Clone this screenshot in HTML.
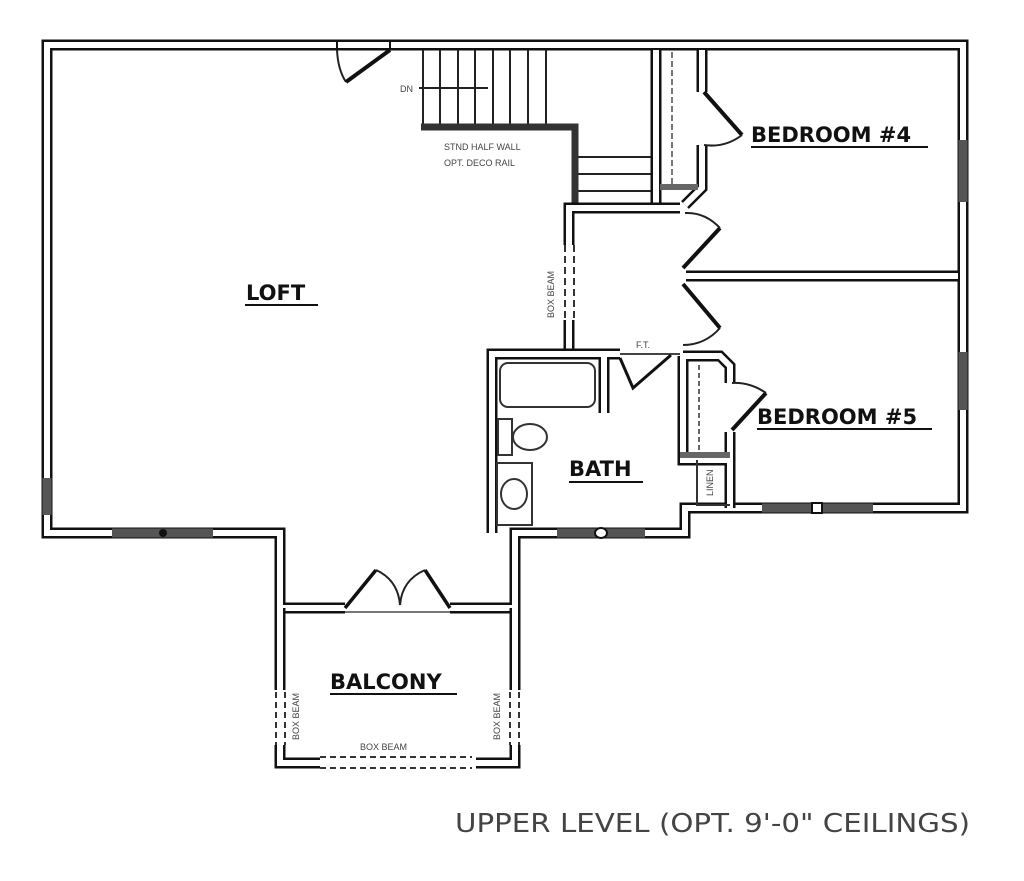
<!DOCTYPE html>
<html><head><style>
html,body{margin:0;padding:0;background:#fff;}
svg{display:block;}
.w{fill:none;stroke:#111;stroke-width:11;stroke-linejoin:miter;}
.wi{fill:none;stroke:#fff;stroke-width:6;stroke-linejoin:miter;}
.ln{fill:none;stroke:#222;stroke-width:2;}
.win{stroke:#555;stroke-width:9;}
.lab{font-family:"DejaVu Sans","Liberation Sans",sans-serif;font-weight:bold;font-size:21px;fill:#111;}
.sm{font-family:"Liberation Sans",sans-serif;font-size:9px;fill:#444;}
</style></head><body>
<svg width="1024" height="881" viewBox="0 0 1024 881" xmlns="http://www.w3.org/2000/svg">
<rect width="1024" height="881" fill="#fff"/>
<g>
<path class="w" d="M345 608 H280 V533 H47 V45 H963 V508 H685 V533 H515 V608 H450"/>
<path class="wi" d="M345 608 H280 V533 H47 V45 H963 V508 H685 V533 H515 V608 H450"/>
</g>
<line class="win" x1="47" y1="478" x2="47" y2="515"/>
<line class="win" x1="112" y1="533" x2="213" y2="533"/>
<circle cx="163" cy="533" r="4" fill="#111"/>
<line class="win" x1="963" y1="140" x2="963" y2="202"/>
<line class="win" x1="963" y1="352" x2="963" y2="410"/>
<line class="win" x1="762" y1="508" x2="873" y2="508"/>
<rect x="812" y="503" width="10" height="10" fill="#fff" stroke="#111" stroke-width="2"/>
<line class="win" x1="557" y1="533" x2="645" y2="533"/>
<ellipse cx="601" cy="533" rx="6" ry="5" fill="#fff" stroke="#111" stroke-width="2"/>
<!-- top door -->
<line x1="337" y1="40" x2="337" y2="50" stroke="#111" stroke-width="2"/>
<line x1="390" y1="40" x2="390" y2="50" stroke="#111" stroke-width="2"/>
<path class="ln" d="M337 50 Q338 70 346 82"/>
<line x1="390" y1="50" x2="346" y2="82" stroke="#111" stroke-width="4"/>
<g class="ln">
<line x1="423" y1="50" x2="423" y2="127"/><line x1="440" y1="50" x2="440" y2="127"/>
<line x1="458" y1="50" x2="458" y2="127"/><line x1="475" y1="50" x2="475" y2="127"/>
<line x1="493" y1="50" x2="493" y2="127"/><line x1="510" y1="50" x2="510" y2="127"/>
<line x1="528" y1="50" x2="528" y2="127"/><line x1="546" y1="50" x2="546" y2="127"/>
<line x1="419" y1="88" x2="488" y2="88"/>
<line x1="578" y1="157" x2="653" y2="157"/><line x1="578" y1="174" x2="653" y2="174"/>
<line x1="578" y1="191" x2="653" y2="191"/>
</g>
<text x="400" y="92" class="sm">DN</text>
<path d="M421 127 H575 V205" fill="none" stroke="#333" stroke-width="7"/>
<text x="444" y="150" class="sm">STND HALF WALL</text>
<text x="444" y="166" class="sm">OPT. DECO RAIL</text>
<g>
<path class="w" d="M656 50 V205"/><path class="wi" d="M656 50 V205"/>
<path class="w" d="M702 50 V92 M702 145 V188 L685 205"/><path class="wi" d="M702 50 V92 M702 145 V188 L685 205"/>
</g>
<line x1="672" y1="52" x2="672" y2="185" stroke="#777" stroke-width="2" stroke-dasharray="6 3"/>
<rect x="660" y="184" width="38" height="6" fill="#666"/>
<line x1="704" y1="92" x2="742" y2="135" stroke="#111" stroke-width="4"/>
<path class="ln" d="M742 135 Q725 148 704 145"/>
<path class="w" d="M569 350 V320 M569 245 V208 H680"/><path class="wi" d="M569 350 V320 M569 245 V208 H680"/>
<g stroke="#333" stroke-width="2" stroke-dasharray="7 4"><line x1="565" y1="245" x2="565" y2="320"/><line x1="574" y1="245" x2="574" y2="320"/></g>
<text transform="translate(554,318) rotate(-90)" class="sm">BOX BEAM</text>
<path class="w" d="M686 276 H958"/><path class="wi" d="M686 276 H958"/>
<path d="M683 268 L720 228 M683 284 L720 328" fill="none" stroke="#111" stroke-width="4"/>
<path class="ln" d="M720 228 Q705 212 685 213 M720 328 Q705 345 683 345"/>
<path class="w" d="M492 533 V354 H620 M604 354 V413"/><path class="wi" d="M492 533 V354 H620 M604 354 V413"/>
<line x1="620" y1="354" x2="680" y2="354" stroke="#444" stroke-width="2"/>
<text x="636" y="348" class="sm">F.T.</text>
<path d="M620 358 L633 388 L671 355" fill="none" stroke="#111" stroke-width="3"/>
<rect x="500" y="363" width="95" height="44" rx="8" fill="none" stroke="#333" stroke-width="2"/>
<rect x="498" y="419" width="14" height="36" fill="none" stroke="#333" stroke-width="2"/>
<ellipse cx="530" cy="437" rx="17" ry="13" fill="none" stroke="#333" stroke-width="2"/>
<rect x="497" y="463" width="35" height="62" fill="none" stroke="#333" stroke-width="2"/>
<ellipse cx="514" cy="494" rx="13" ry="15" fill="none" stroke="#333" stroke-width="2"/>
<path class="w" d="M683 356 H720 L730 366 V383 M730 432 V508 M683 356 V460 H730"/><path class="wi" d="M683 356 H720 L730 366 V383 M730 432 V508 M683 356 V460 H730"/>
<path d="M697 460 V505 H730" fill="none" stroke="#333" stroke-width="2"/>
<line x1="699" y1="365" x2="699" y2="450" stroke="#666" stroke-width="2" stroke-dasharray="5 3"/>
<rect x="680" y="452" width="50" height="6" fill="#666"/>
<text transform="translate(713,496) rotate(-90)" class="sm" font-size="8">LINEN</text>
<line x1="732" y1="430" x2="766" y2="393" stroke="#111" stroke-width="4"/>
<path class="ln" d="M766 393 Q750 382 732 383"/>
<path d="M345 608 L376 570 M450 608 L425 570" fill="none" stroke="#111" stroke-width="3.5"/>
<path class="ln" d="M376 570 Q398 580 400 605 M425 570 Q402 580 400 605"/>
<line x1="345" y1="612" x2="450" y2="612" stroke="#777" stroke-width="2"/>
<path class="w" d="M280 608 V690 M515 608 V690"/><path class="wi" d="M280 608 V690 M515 608 V690"/>
<g stroke="#333" stroke-width="2" stroke-dasharray="6 4">
<line x1="276" y1="692" x2="276" y2="745"/><line x1="285" y1="692" x2="285" y2="745"/>
<line x1="510" y1="692" x2="510" y2="745"/><line x1="519" y1="692" x2="519" y2="745"/>
<line x1="320" y1="757" x2="472" y2="757"/><line x1="320" y1="768" x2="472" y2="768"/>
</g>
<path class="w" d="M280 745 V763 H320 M515 745 V763 H476"/><path class="wi" d="M280 745 V763 H320 M515 745 V763 H476"/>
<text transform="translate(299,740) rotate(-90)" class="sm">BOX BEAM</text>
<text transform="translate(500,740) rotate(-90)" class="sm">BOX BEAM</text>
<text x="360" y="750" class="sm">BOX BEAM</text>
<text x="246" y="300" class="lab">LOFT</text><line x1="245" y1="305" x2="318" y2="305" stroke="#111" stroke-width="2"/>
<text x="751" y="142" class="lab">BEDROOM #4</text><line x1="751" y1="147" x2="928" y2="147" stroke="#111" stroke-width="2"/>
<text x="757" y="424" class="lab">BEDROOM #5</text><line x1="757" y1="429" x2="932" y2="429" stroke="#111" stroke-width="2"/>
<text x="569" y="476" class="lab">BATH</text><line x1="569" y1="482" x2="643" y2="482" stroke="#111" stroke-width="2"/>
<text x="330" y="689" class="lab">BALCONY</text><line x1="330" y1="694" x2="457" y2="694" stroke="#111" stroke-width="2"/>
<text x="455" y="832" font-family="DejaVu Sans,Liberation Sans,sans-serif" font-size="26" fill="#444" textLength="515" lengthAdjust="spacingAndGlyphs">UPPER LEVEL (OPT. 9'-0" CEILINGS)</text>
</svg>
</body></html>
